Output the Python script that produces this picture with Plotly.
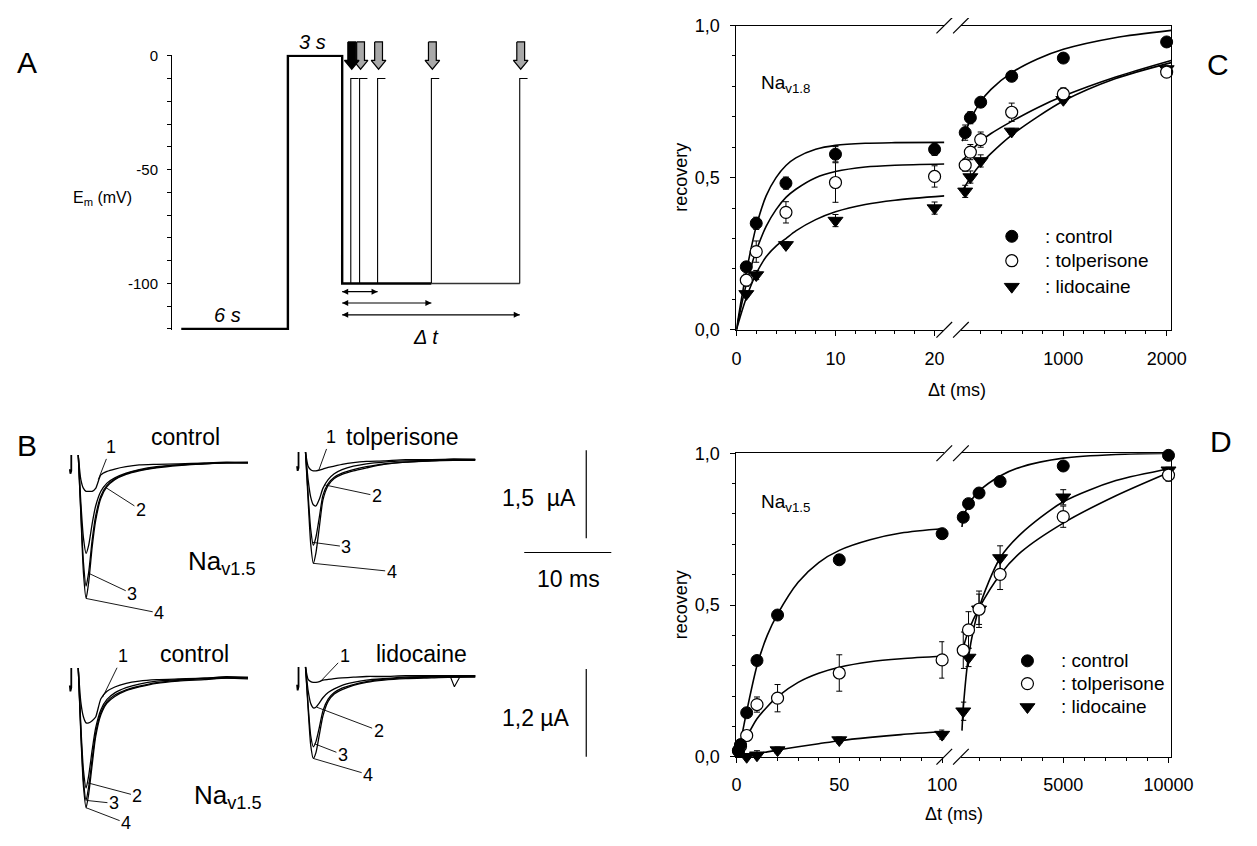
import plotly.graph_objects as go

# page is 1257x846; the browser's default 8px body margin is kept, so the figure is 16px smaller
PAGE_W, PAGE_H, OFF = 1257, 846, 8
W, H = PAGE_W - 2 * OFF, PAGE_H - 2 * OFF
FONT = "Liberation Sans, Arial, Helvetica, sans-serif"

# ======================= DATA =======================
# ---- Panel A : voltage protocol (schematic time units, mV) ----
proto_t = [9.3, 118.3, 118.3, 173.8, 173.8, 265.0]
proto_v = [-120, -120, 0, 0, -100, -100]
tail_t = [265.0, 355.3]
tail_v = [-100, -100]
pulse_t = [182.6, 191.6, 210.0, 265.0, 355.3]
pulse_v = -10
hold_v = -100
pulse_len = 8.0
dt_level = [-103.6, -108.6, -113.8]
dt_start = 173.8
dt_end_pulse = [2, 3, 4]
A_ytickvals = [-100, -50, 0]
A_yticktext = ["-100", "-50", "0"]
A_yminor = [-120, -110, -90, -80, -70, -60, -40, -30, -20, -10]

# ---- Panel B : current traces (ms, µA) ----
B_t = [0, 0.3, 0.6, 0.9, 1.2, 1.6, 2.0, 2.6, 3.3, 4.2, 5.5, 7, 9, 11.5, 14.5, 17, 19.5]
hook_t = [-0.8, -0.8, -0.9, -0.97]
hook_i = [0.12, -0.15, -0.2, -0.12]
# top-left: control (tolperisone series)
b1_1 = [0.12, -0.3, -0.45, -0.5, -0.5, -0.5, -0.45, -0.22, -0.16, -0.12, -0.08, -0.05, -0.04, -0.03, -0.02, -0.01, 0.0]
b1_2 = [0.12, -0.7, -1.3, -1.56, -1.42, -1.05, -0.75, -0.5, -0.36, -0.27, -0.19, -0.13, -0.08, -0.05, -0.02, 0.0, -0.01]
b1_3 = [0.12, -0.85, -1.72, -2.12, -1.88, -1.33, -0.92, -0.58, -0.4, -0.29, -0.2, -0.14, -0.09, -0.05, -0.03, -0.01, -0.01]
b1_4 = [0.12, -0.9, -1.9, -2.33, -2.05, -1.45, -1.0, -0.62, -0.42, -0.3, -0.21, -0.15, -0.1, -0.06, -0.03, -0.02, -0.02]
# top-right: tolperisone
b2_1 = [0.12, -0.12, -0.18, -0.2, -0.2, -0.19, -0.17, -0.14, -0.12, -0.09, -0.06, -0.04, -0.03, -0.01, -0.01, 0.0, 0.0]
b2_2 = [0.12, -0.35, -0.65, -0.78, -0.8, -0.68, -0.5, -0.35, -0.25, -0.18, -0.12, -0.08, -0.05, -0.03, -0.02, 0.0, -0.01]
b2_3 = [0.12, -0.6, -1.2, -1.47, -1.33, -0.98, -0.62, -0.42, -0.31, -0.24, -0.18, -0.13, -0.08, -0.05, -0.03, -0.01, -0.01]
b2_4 = [0.12, -0.7, -1.45, -1.78, -1.6, -1.15, -0.7, -0.45, -0.33, -0.26, -0.2, -0.15, -0.09, -0.05, -0.03, -0.02, -0.02]
# bottom-left: control (lidocaine series)
b3_1 = [0.12, -0.35, -0.55, -0.63, -0.63, -0.6, -0.55, -0.3, -0.2, -0.14, -0.09, -0.06, -0.04, -0.03, -0.02, 0.0, -0.01]
b3_2 = [0.12, -0.68, -1.28, -1.52, -1.35, -1.0, -0.7, -0.45, -0.31, -0.22, -0.15, -0.1, -0.06, -0.04, -0.02, -0.01, -0.01]
b3_3 = [0.12, -0.75, -1.42, -1.69, -1.5, -1.12, -0.77, -0.49, -0.34, -0.25, -0.18, -0.13, -0.08, -0.05, -0.03, -0.02, -0.02]
b3_4 = [0.12, -0.8, -1.5, -1.79, -1.6, -1.2, -0.82, -0.52, -0.36, -0.27, -0.19, -0.14, -0.09, -0.06, -0.04, -0.02, -0.03]
# bottom-right: lidocaine
b4_1 = [0.12, -0.05, -0.08, -0.09, -0.09, -0.08, -0.06, -0.05, -0.04, -0.03, -0.02, -0.01, -0.01, 0.0, 0.0, 0.0, 0.0]
b4_2 = [0.12, -0.2, -0.38, -0.44, -0.43, -0.37, -0.3, -0.23, -0.18, -0.13, -0.09, -0.06, -0.04, -0.02, -0.01, -0.01, 0.0]
b4_3 = [0.12, -0.4, -0.82, -0.97, -0.9, -0.7, -0.48, -0.32, -0.23, -0.17, -0.12, -0.08, -0.05, -0.03, -0.02, -0.02, -0.01]
b4_4 = [0.12, -0.45, -0.95, -1.13, -1.05, -0.8, -0.55, -0.35, -0.25, -0.19, -0.13, -0.09, -0.06, -0.04, -0.03, -0.02, -0.02]
dip_t = [16.6, 17.1, 17.8]
dip_i = [0.0, -0.15, 0.0]

trace_labels = ["1", "2", "3", "4"]
b1_lab = [(3.75, 0.25), (7.2, -0.82), (6.2, -2.25), (9.3, -2.58)]
b1_tip = [(2.3, -0.3), (3.0, -0.42), (1.2, -1.9), (0.9, -2.33)]
b2_lab = [(2.9, 0.37), (8.2, -0.63), (4.7, -1.5), (9.9, -1.92)]
b2_tip = [(1.5, -0.2), (2.2, -0.44), (0.75, -1.42), (0.9, -1.78)]
b3_lab = [(5.1, 0.28), (6.8, -1.63), (4.1, -1.73), (5.5, -2.0)]
b3_tip = [(2.8, -0.28), (1.1, -1.45), (0.95, -1.69), (0.9, -1.79)]
b4_lab = [(4.5, 0.27), (8.4, -0.75), (4.3, -1.08), (7.2, -1.35)]
b4_tip = [(1.7, -0.08), (1.3, -0.43), (1.05, -0.93), (0.9, -1.13)]
scale_ms = 10
scale_ua_top = 1.5
scale_ua_bot = 1.2

# ---- Panel C : Nav1.8 recovery ----
C_t1 = [1, 2, 5, 10, 20]
C_t2 = [50, 100, 200, 500, 1000, 2000]
C_ctrl1 = [0.207, 0.350, 0.482, 0.577, 0.593]
C_ctrl1_e = [0.01, 0.02, 0.02, 0.025, 0.02]
C_ctrl2 = [0.648, 0.697, 0.748, 0.833, 0.893, 0.946]
C_ctrl2_e = [0.025, 0.02, 0.01, 0.01, 0.01, 0.01]
C_tolp1 = [0.163, 0.257, 0.386, 0.484, 0.504]
C_tolp1_e = [0.02, 0.035, 0.035, 0.065, 0.035]
C_tolp2 = [0.541, 0.584, 0.625, 0.715, 0.775, 0.847]
C_tolp2_e = [0.02, 0.025, 0.025, 0.03, 0.02, 0.01]
C_lido1 = [0.118, 0.180, 0.279, 0.359, 0.400]
C_lido1_e = [0.01, 0.015, 0.01, 0.02, 0.02]
C_lido2 = [0.455, 0.502, 0.555, 0.652, 0.756, 0.857]
C_lido2_e = [0.02, 0.02, 0.02, 0.01, 0.01, 0.01]
# fitted curves
Cf_t1 = [0, 0.5, 1, 1.5, 2, 3, 4, 5, 6, 8, 10, 13, 16, 21]
Cf_ctrl1 = [0, 0.10, 0.19, 0.27, 0.34, 0.44, 0.50, 0.54, 0.565, 0.593, 0.606, 0.613, 0.615, 0.616]
Cf_tolp1 = [0, 0.08, 0.15, 0.21, 0.26, 0.34, 0.395, 0.435, 0.462, 0.50, 0.52, 0.535, 0.541, 0.545]
Cf_lido1 = [0, 0.055, 0.105, 0.148, 0.185, 0.24, 0.275, 0.30, 0.325, 0.362, 0.388, 0.412, 0.426, 0.44]
Cf_t2 = [20, 100, 200, 300, 500, 750, 1000, 1500, 2044]
Cf_ctrl2 = [0.62, 0.69, 0.75, 0.79, 0.845, 0.89, 0.922, 0.96, 0.984]
Cf_tolp2 = [0.555, 0.585, 0.62, 0.645, 0.685, 0.73, 0.768, 0.83, 0.885]
Cf_lido2 = [0.455, 0.50, 0.545, 0.58, 0.64, 0.70, 0.752, 0.825, 0.878]

# ---- Panel D : Nav1.5 recovery ----
D_t1 = [1, 2, 5, 10, 20, 50, 100]
D_t2 = [250, 500, 1000, 2000, 5000, 10000]
D_ctrl1 = [0.02, 0.04, 0.145, 0.317, 0.467, 0.649, 0.735]
D_ctrl1_e = [0.01, 0.01, 0.01, 0.01, 0.015, 0.015, 0.01]
D_ctrl2 = [0.789, 0.834, 0.869, 0.907, 0.958, 0.993]
D_ctrl2_e = [0.01, 0.01, 0.01, 0.01, 0.01, 0.01]
D_tolp1 = [0.02, 0.035, 0.07, 0.172, 0.193, 0.276, 0.319]
D_tolp1_e = [0.01, 0.01, 0.015, 0.025, 0.045, 0.06, 0.06]
D_tolp2 = [0.351, 0.418, 0.486, 0.601, 0.791, 0.928]
D_tolp2_e = [0.06, 0.06, 0.06, 0.05, 0.035, 0.02]
D_lido1 = [-0.005, -0.003, 0.0, 0.005, 0.022, 0.055, 0.073]
D_lido1_e = [0.005, 0.005, 0.01, 0.015, 0.01, 0.01, 0.015]
D_lido2 = [0.15, 0.327, 0.486, 0.655, 0.855, 0.944]
D_lido2_e = [0.03, 0.03, 0.05, 0.04, 0.025, 0.01]
Df_t1 = [0, 2, 5, 10, 15, 20, 30, 40, 50, 65, 80, 101]
Df_ctrl1 = [0, 0.05, 0.15, 0.30, 0.40, 0.47, 0.575, 0.64, 0.68, 0.715, 0.737, 0.752]
Df_tolp1 = [0, 0.025, 0.065, 0.125, 0.165, 0.198, 0.245, 0.275, 0.295, 0.313, 0.323, 0.332]
Df_lido1 = [0, 0.002, 0.005, 0.01, 0.016, 0.022, 0.033, 0.043, 0.053, 0.064, 0.073, 0.083]
Df_t2 = [190, 250, 500, 1000, 2000, 3000, 5000, 7500, 10130]
Df_ctrl2 = [0.757, 0.785, 0.83, 0.875, 0.925, 0.955, 0.984, 0.996, 1.0]
Df_tolp2 = [0.345, 0.36, 0.415, 0.49, 0.60, 0.675, 0.77, 0.86, 0.94]
Df_lido2 = [0.086, 0.16, 0.33, 0.49, 0.655, 0.735, 0.84, 0.91, 0.95]

legend_names = [": control", ": tolperisone", ": lidocaine"]

# ======================= LAYOUT HELPERS =======================
def X(px):
    return (px - OFF) / W


def Y(py):
    return 1 - (py - OFF) / H


def ax_key(kind, n):
    return kind + ("axis" if n == 1 else "axis%d" % n)


def ref(kind, n):
    return kind if n == 1 else "%s%d" % (kind, n)


fig = go.Figure()
layout = {}


def add(tr, n):
    tr.update(xaxis=ref("x", n), yaxis=ref("y", n))
    fig.add_trace(tr)


TICKFONT = dict(family=FONT, size=18, color="black")
BASE = dict(showgrid=False, zeroline=False, linecolor="black", linewidth=1.2,
            tickcolor="black", tickwidth=1.2, tickfont=TICKFONT)

# ---------- Panel A axes ----------
A_X0, A_X1, A_R0, A_R1 = 170.7, 540.7, 0.0, 370.0
A_MV = 2.333
layout[ax_key("x", 1)] = dict(domain=[X(A_X0), X(A_X1)], range=[A_R0, A_R1], visible=False, anchor="y")
layout[ax_key("y", 1)] = dict(BASE, domain=[Y(46.7 + 120.5 * A_MV), Y(46.7 - 0.5 * A_MV)], range=[-120.5, 0.5],
                              anchor="x", showline=True, ticks="outside", ticklen=4,
                              tickmode="array", tickvals=A_ytickvals, ticktext=A_yticktext,
                              tickfont=dict(family=FONT, size=15, color="black"), ticklabelstandoff=6,
                              minor=dict(ticks="outside", ticklen=4, tickwidth=1, tickcolor="black",
                                         tickmode="array", tickvals=A_yminor))


def a_px(t):
    return A_X0 + (t - A_R0) * (A_X1 - A_X0) / (A_R1 - A_R0)


add(go.Scatter(x=proto_t, y=proto_v, mode="lines", line=dict(color="black", width=2.4)), 1)
add(go.Scatter(x=tail_t, y=tail_v, mode="lines", line=dict(color="#333", width=1.5)), 1)
px_, py_ = [], []
for t in pulse_t:
    px_ += [t, t, t + pulse_len, None]
    py_ += [hold_v, pulse_v, pulse_v, None]
add(go.Scatter(x=px_, y=py_, mode="lines", line=dict(color="black", width=1.1)), 1)

# double-headed Δt arrows (line + arrow-tip markers)
for lvl, k in zip(dt_level, dt_end_pulse):
    add(go.Scatter(x=[dt_start, pulse_t[k]], y=[lvl, lvl], mode="lines+markers", cliponaxis=False,
                   line=dict(color="black", width=1.1),
                   marker=dict(symbol=["arrow-left", "arrow-right"], size=6, color="black",
                               line=dict(width=0))), 1)

annotations = []

# ---------- Panel B axes ----------
MS_PX = 8.9
B_geo = {3: (74.7, 463, 60, (-2.9, 0.6)), 4: (307, 460, 60, (-2.9, 0.6)),
         5: (74.7, 683, 75, (-2.05, 0.5)), 6: (307, 682, 75, (-2.05, 0.5))}
B_xr = (-1.2, 20.0)
for n, (t0, base, ua, yr) in B_geo.items():
    layout[ax_key("x", n)] = dict(domain=[X(t0 + B_xr[0] * MS_PX), X(t0 + B_xr[1] * MS_PX)],
                                  range=list(B_xr), visible=False, anchor=ref("y", n))
    layout[ax_key("y", n)] = dict(domain=[Y(base - yr[0] * ua), Y(base - yr[1] * ua)],
                                  range=list(yr), visible=False, anchor=ref("x", n))

B_sets = {3: ([b1_1, b1_2, b1_3, b1_4], b1_lab, b1_tip),
          4: ([b2_1, b2_2, b2_3, b2_4], b2_lab, b2_tip),
          5: ([b3_1, b3_2, b3_3, b3_4], b3_lab, b3_tip),
          6: ([b4_1, b4_2, b4_3, b4_4], b4_lab, b4_tip)}
for n, (traces, labs, tips) in B_sets.items():
    add(go.Scatter(x=hook_t, y=hook_i, mode="lines", line=dict(color="black", width=1.8)), n)
    for tr in traces:
        add(go.Scatter(x=B_t, y=tr, mode="lines", line=dict(color="black", width=1.3, shape="spline", smoothing=0.6)), n)
    for lbl, (lx, ly), (tx, ty) in zip(trace_labels, labs, tips):
        annotations.append(dict(x=tx, y=ty, xref=ref("x", n), yref=ref("y", n), ax=lx, ay=ly,
                                axref=ref("x", n), ayref=ref("y", n), text=lbl, showarrow=True,
                                arrowhead=0, arrowwidth=0.9, arrowcolor="black", standoff=0,
                                font=dict(family=FONT, size=18, color="black")))
add(go.Scatter(x=dip_t, y=dip_i, mode="lines", line=dict(color="black", width=1.1)), 6)

# ---------- Panels C & D axes ----------
def recovery_axes(n1, n2, ytop, ybot, r1, r2, d1, d2, m1, m2):
    yd = [Y(ybot), Y(ytop)]
    layout[ax_key("x", n1)] = dict(BASE, domain=[X(747.5), X(960)], range=r1, anchor=ref("y", n1),
                                   showline=True, mirror=True, ticks="outside", ticklen=5,
                                   tick0=0, dtick=d1, ticklabelstandoff=7,
                                   minor=dict(ticks="outside", ticklen=3, tickwidth=1, tickcolor="black",
                                              tick0=0, dtick=m1))
    layout[ax_key("x", n2)] = dict(BASE, domain=[X(977), X(1192)], range=r2, anchor=ref("y", n2),
                                   showline=True, mirror=True, ticks="outside", ticklen=5,
                                   tick0=0, dtick=d2, tickformat="d", ticklabelstandoff=7,
                                   minor=dict(ticks="outside", ticklen=3, tickwidth=1, tickcolor="black",
                                              tick0=0, dtick=m2))
    layout[ax_key("y", n1)] = dict(BASE, domain=yd, range=[0, 1], anchor=ref("x", n1), showline=True,
                                   ticks="outside", ticklen=5, tick0=0, dtick=0.5, tickformat=".1f",
                                   ticklabelstandoff=7,
                                   minor=dict(ticks="outside", ticklen=3, tickwidth=1, tickcolor="black",
                                              tick0=0, dtick=0.1))
    layout[ax_key("y", n2)] = dict(BASE, domain=yd, range=[0, 1], anchor=ref("x", n2), side="right",
                                   showline=True, ticks="", showticklabels=False)


C_TOP, C_BOT = 15.7, 327.5
D_TOP, D_BOT = 454, 765
recovery_axes(7, 8, C_TOP, C_BOT, [0, 20.98], [8.5, 2044.5], 10, 1000, 2, 200)
recovery_axes(9, 10, D_TOP, D_BOT, [0, 101.05], [139, 10130], 50, 5000, 10, 1000)

MK = [dict(symbol="circle", color="black", size=12, line=dict(color="black", width=1)),
      dict(symbol="circle", color="white", size=12, line=dict(color="black", width=1.2)),
      dict(symbol="triangle-down", color="black", size=13, line=dict(color="black", width=1))]


def fit(x, y, n):
    add(go.Scatter(x=x, y=y, mode="lines", line=dict(color="black", width=1.6, shape="spline", smoothing=0.8)), n)


def pts(x, y, e, mk, n):
    add(go.Scatter(x=x, y=y, mode="markers", marker=mk, cliponaxis=False,
                   error_y=dict(type="data", array=e, color="black", thickness=1, width=3)), n)


for fx, fy in [(Cf_t1, Cf_ctrl1), (Cf_t1, Cf_tolp1), (Cf_t1, Cf_lido1)]:
    fit(fx, fy, 7)
for fx, fy in [(Cf_t2, Cf_ctrl2), (Cf_t2, Cf_tolp2), (Cf_t2, Cf_lido2)]:
    fit(fx, fy, 8)
for fx, fy in [(Df_t1, Df_ctrl1), (Df_t1, Df_tolp1), (Df_t1, Df_lido1)]:
    fit(fx, fy, 9)
for fx, fy in [(Df_t2, Df_ctrl2), (Df_t2, Df_tolp2), (Df_t2, Df_lido2)]:
    fit(fx, fy, 10)

for y, e, mk in [(C_lido1, C_lido1_e, MK[2]), (C_tolp1, C_tolp1_e, MK[1]), (C_ctrl1, C_ctrl1_e, MK[0])]:
    pts(C_t1, y, e, mk, 7)
for y, e, mk in [(C_lido2, C_lido2_e, MK[2]), (C_tolp2, C_tolp2_e, MK[1]), (C_ctrl2, C_ctrl2_e, MK[0])]:
    pts(C_t2, y, e, mk, 8)
for y, e, mk in [(D_lido1, D_lido1_e, MK[2]), (D_tolp1, D_tolp1_e, MK[1]), (D_ctrl1, D_ctrl1_e, MK[0])]:
    pts(D_t1, y, e, mk, 9)
for y, e, mk in [(D_lido2, D_lido2_e, MK[2]), (D_tolp2, D_tolp2_e, MK[1]), (D_ctrl2, D_ctrl2_e, MK[0])]:
    pts(D_t2, y, e, mk, 10)

# ---------- overlay in page-pixel units (legends, arrows, breaks, scale bars) ----------
OV = 20
layout[ax_key("x", OV)] = dict(domain=[0, 1], range=[OFF, OFF + W], visible=False, anchor=ref("y", OV))
layout[ax_key("y", OV)] = dict(domain=[0, 1], range=[OFF + H, OFF], visible=False, anchor=ref("x", OV))

# protocol block arrows
for i in list(range(1, len(pulse_t))) + [0]:
    cx = a_px(pulse_t[i]) + 1
    xs = [cx - 4, cx + 4, cx + 4, cx + 7.5, cx, cx - 7.5, cx - 4, cx - 4]
    ys = [32.5, 32.5, 51.5, 51.5, 60.5, 51.5, 51.5, 32.5]
    add(go.Scatter(x=xs, y=ys, mode="lines", fill="toself",
                   fillcolor="black" if i == 0 else "#a8a8a8",
                   line=dict(color="black", width=1.2)), OV)

# axis breaks
bx, by = [], []
for yax in (C_TOP, C_BOT, D_TOP, D_BOT):
    for cx in (960, 977):
        bx += [cx - 8, cx + 8, None]
        by += [yax + 8, yax - 8, None]
add(go.Scatter(x=bx, y=by, mode="lines", line=dict(color="black", width=1.2)), OV)

# scale bars
sx = [594, 594, None, 530.6, 530.6 + scale_ms * MS_PX, None, 594, 594]
sy = [451, 451 + scale_ua_top * 60, None, 555.7, 555.7, None, 675, 675 + scale_ua_bot * 75]
add(go.Scatter(x=sx, y=sy, mode="lines", line=dict(color="black", width=1.2)), OV)

# legends
for (mx, tx, rows) in [(1029, 1061, [231.7, 256.7, 283.3]), (1045, 1077, [666.7, 690, 714])]:
    for mk, ry, name in zip(MK, rows, legend_names):
        add(go.Scatter(x=[mx], y=[ry], mode="markers", marker=mk, cliponaxis=False), OV)
        annotations.append(dict(text=name, x=X(tx), y=Y(ry), xref="paper", yref="paper", showarrow=False,
                                xanchor="left", yanchor="middle",
                                font=dict(family=FONT, size=19, color="black")))


def txt(text, px, py, size, xanchor="center", angle=0):
    annotations.append(dict(text=text, x=X(px), y=Y(py), xref="paper", yref="paper", showarrow=False,
                            xanchor=xanchor, yanchor="middle", textangle=angle,
                            font=dict(family=FONT, size=size, color="black")))


txt("A", 22, 54, 30)
txt("B", 22, 446, 30)
txt("C", 1240, 56, 30)
txt("D", 1243, 442, 30)
txt("E<sub>m</sub> (mV)", 100, 193, 16)
txt("<i>3 s</i>", 314, 33, 20)
txt("<i>6 s</i>", 227, 312, 20)
txt("<i>Δ t</i>", 430, 335, 20)
txt("control", 184, 437, 23)
txt("tolperisone", 406, 437, 23)
txt("control", 194, 660, 23)
txt("lidocaine", 426, 660, 23)
txt("Na<sub>v1.5</sub>", 222, 566, 26)
txt("Na<sub>v1.5</sub>", 228, 806, 26)
txt("1,5  µA", 546, 500, 23)
txt("10 ms", 576, 583, 23)
txt("1,2 µA", 543, 725, 23)
txt("Na<sub>v1.8</sub>", 771, 76, 19, xanchor="left")
txt("Na<sub>v1.5</sub>", 771, 505, 19, xanchor="left")
txt("recovery", 691, (C_TOP + C_BOT) / 2, 18, angle=-90)
txt("recovery", 691, (D_TOP + D_BOT) / 2, 18, angle=-90)
txt("Δt (ms)", 973, 389, 18)
txt("Δt (ms)", 970, 824, 18)

layout.update(dict(width=W, height=H, margin=dict(l=0, r=0, t=0, b=0), showlegend=False,
                   paper_bgcolor="white", plot_bgcolor="rgba(0,0,0,0)", separators=",.",
                   annotations=annotations, font=dict(family=FONT, color="black")))
fig.update_layout(**layout)

fig.write_html("out.html", config={"displayModeBar": False})
